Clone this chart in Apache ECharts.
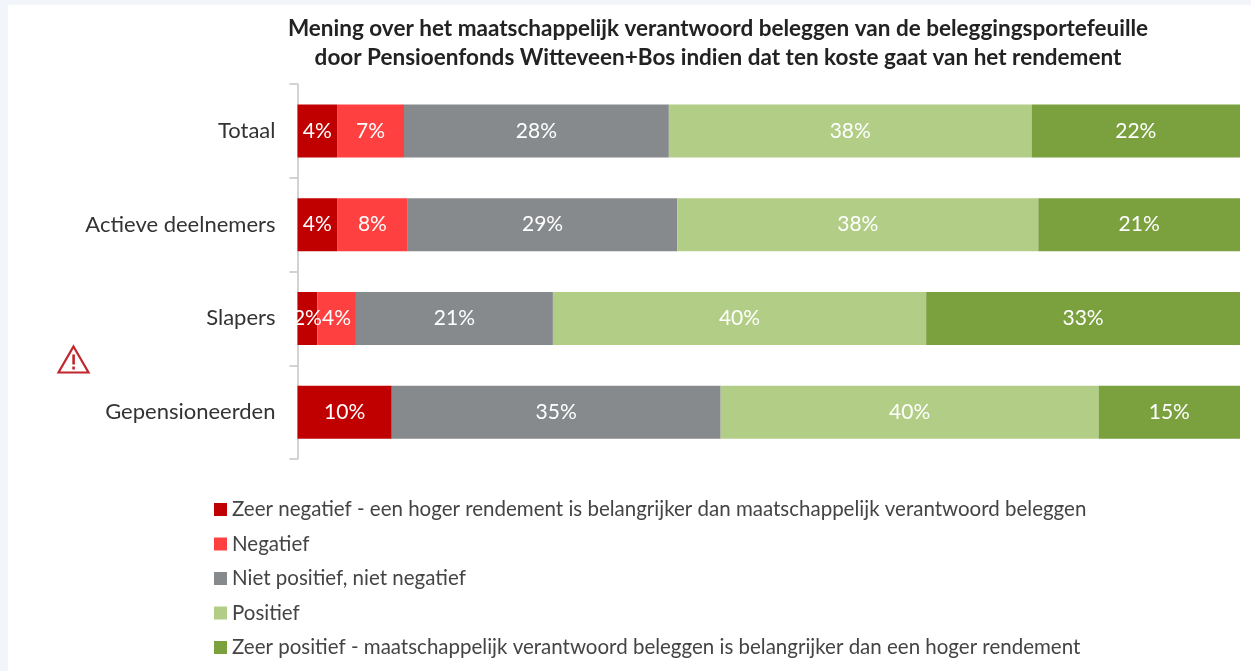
<!DOCTYPE html>
<html>
<head>
<meta charset="utf-8">
<title>Mening over maatschappelijk verantwoord beleggen</title>
<script src="https://cdn.jsdelivr.net/npm/echarts@6/dist/echarts.min.js"></script>
<style>
  html, body { margin: 0; padding: 0; background: #f2f6fb; }
  #chart { width: 1251px; height: 671px; }
</style>
</head>
<body>
<div id="chart"></div>
<script>
const categories = ['Totaal', 'Actieve deelnemers', 'Slapers', 'Gepensioneerden'];
const zeerNegatief = [4.2, 4.2, 2.1, 10.0];
const negatief = [7.1, 7.5, 4.1, null];
const neutraal = [28.1, 28.6, 20.9, 34.9];
const positief = [38.49, 38.3, 39.6, 40.1];
const zeerPositief = [22.11, 21.4, 33.3, 15.0];

const titleLines = 'Mening over het maatschappelijk verantwoord beleggen van de beleggingsportefeuille\n' +
  'door Pensioenfonds Witteveen+Bos indien dat ten koste gaat van het rendement';
const seriesNames = [
  'Zeer negatief - een hoger rendement is belangrijker dan maatschappelijk verantwoord beleggen',
  'Negatief',
  'Niet positief, niet negatief',
  'Positief',
  'Zeer positief - maatschappelijk verantwoord beleggen is belangrijker dan een hoger rendement'
];
const seriesValues = [zeerNegatief, negatief, neutraal, positief, zeerPositief];
const colorList = ['#c00000', '#ff4040', '#878a8c', '#b2ce86', '#7ba13f'];

const font = 'Lato';
const chart = echarts.init(document.getElementById('chart'), null, { renderer: 'canvas' });

const option = {
  backgroundColor: '#f2f6fb',
  animation: false,
  color: colorList,
  title: {
    text: titleLines,
    left: 713,
    top: 9,
    textAlign: 'center',
    textStyle: { fontFamily: font, fontSize: 22.5, fontWeight: 'bold', color: '#222', lineHeight: 29 }
  },
  legend: {
    orient: 'vertical',
    left: 209,
    top: 494,
    itemWidth: 13,
    itemHeight: 13,
    itemGap: 13.5,
    icon: 'rect',
    textStyle: { fontFamily: font, fontSize: 20.5, color: '#444', lineHeight: 21 },
    data: seriesNames
  },
  grid: { left: 297.5, right: 11, top: 84, height: 375 },
  xAxis: { type: 'value', min: 0, max: 100, show: false },
  yAxis: {
    type: 'category',
    inverse: true,
    data: categories,
    axisLine: { show: true, lineStyle: { color: '#c4c4c4', width: 1.5 } },
    axisTick: { show: true, length: 8, lineStyle: { color: '#c4c4c4', width: 1.5 } },
    axisLabel: { fontFamily: font, fontSize: 22, color: '#333', margin: 22, padding: [0, 0, 4, 0] }
  },
  series: seriesNames.map(function (name, i) {
    return {
      name: name,
      type: 'bar',
      stack: 'total',
      barWidth: 53,
      data: seriesValues[i],
      label: {
        show: true,
        position: 'inside',
        fontFamily: font,
        fontSize: 21,
        color: '#fff',
        formatter: function (p) { return Math.round(p.value) + '%'; }
      }
    };
  }),
  graphic: [
    { type: 'rect', left: 8, top: 5, z: -1, shape: { width: 1243, height: 666 }, style: { fill: '#fff' } },
    {
      type: 'group', left: 56, top: 344, children: [
        { type: 'polygon', shape: { points: [[18, 2], [33, 28], [3, 28]] }, style: { fill: 'none', stroke: '#c0272d', lineWidth: 2.2 } },
        { type: 'rect', shape: { x: 16.8, y: 10, width: 2.6, height: 10 }, style: { fill: '#c0272d' } },
        { type: 'rect', shape: { x: 16.8, y: 22, width: 2.6, height: 3 }, style: { fill: '#c0272d' } }
      ]
    }
  ]
};

chart.setOption(option, true);
</script>
</body>
</html>
